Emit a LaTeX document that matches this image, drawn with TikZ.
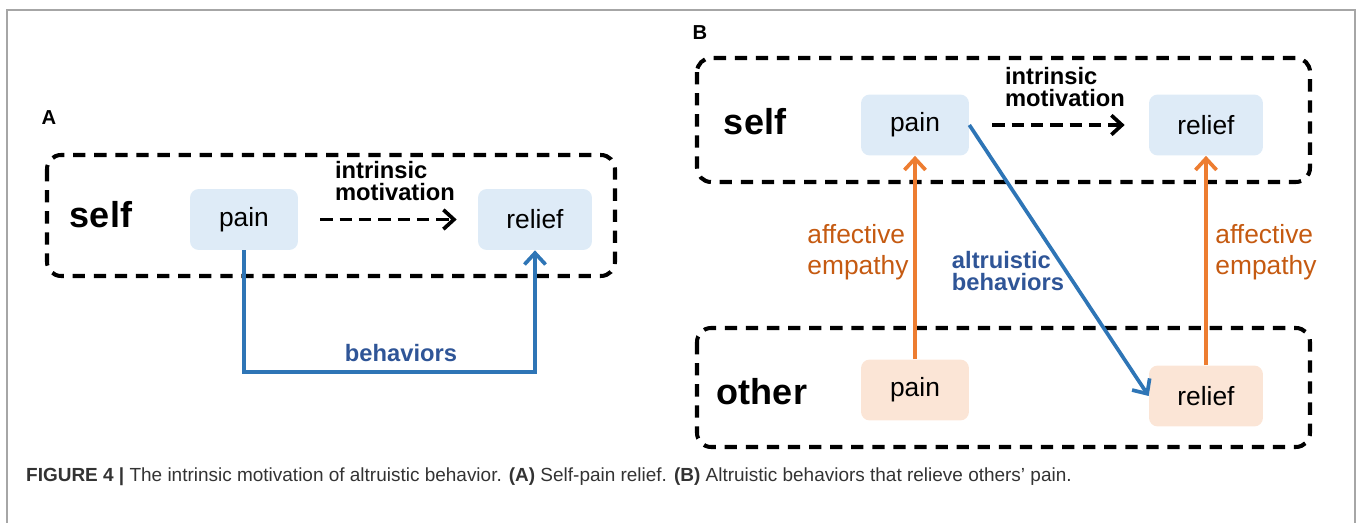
\documentclass[tikz,border=0pt]{standalone}
\usepackage{fontspec}
\setmainfont{Liberation Sans}
\usetikzlibrary{arrows.meta}

\definecolor{boxblue}{HTML}{DEEBF7}
\definecolor{boxpeach}{HTML}{FBE5D6}
\definecolor{arrblue}{HTML}{2E75B6}
\definecolor{txtblue}{HTML}{2F5597}
\definecolor{arrorange}{HTML}{ED7D31}
\definecolor{txtorange}{HTML}{C55A11}

\begin{document}
\begin{tikzpicture}[x=0.02cm,y=-0.02cm,
  groupbox/.style={draw=black,line width=2.3pt,dash pattern=on 7pt off 5pt,rounded corners=8pt},
  state/.style={rounded corners=5pt,minimum height=1.22cm,font=\fontsize{15}{17}\selectfont},
  bigword/.style={font=\fontsize{20.5}{24}\bfseries\selectfont},
  midword/.style={font=\fontsize{13.5}{13}\bfseries\selectfont,align=left},
  empword/.style={font=\fontsize{15}{17.5}\selectfont,text=txtorange,align=left},
  panelword/.style={font=\fontsize{11.5}{13}\bfseries\selectfont},
  motarrow/.style={-{Straight Barb[length=6pt,width=11pt]},line width=2.1pt,dash pattern=on 7pt off 4pt},
  beharrow/.style={-{Straight Barb[length=6.5pt,width=12pt]},line width=2.1pt,color=arrblue},
  emparrow/.style={-{Straight Barb[length=6.5pt,width=12pt]},line width=2.1pt,color=arrorange}]
\useasboundingbox (0,0) rectangle (1360,523);
\draw[gray!70,line width=0.8pt] (7,530) -- (7,10) -- (1355,10) -- (1355,530);

% panel A
\node[panelword] (labA) at (49,118) {A};
\draw[groupbox] (47,155) rectangle (615,276);
\node[bigword] (selfA) at (101,215) {self};
\node[state,fill=boxblue,minimum width=2.16cm] (painA) at (244,219.5) {pain};
\node[state,fill=boxblue,minimum width=2.28cm] (reliefA) at (535,219.5) {relief};
\draw[motarrow,shorten <=0.44cm,shorten >=0.42cm] (painA) to (reliefA);
\node[midword] (motA) at (395,181) {intrinsic\\motivation};
\coordinate (bendA) at (390,372);
\draw[beharrow] (painA.south) |- (bendA) -| (reliefA.south);
\node[midword,text=txtblue] (behA) at (401,353) {behaviors};

% panel B
\node[panelword] (labB) at (700,33) {B};
\draw[groupbox] (697,58) rectangle (1310,182);
\draw[groupbox] (697,328) rectangle (1310,447);
\node[bigword] (selfB) at (755,122) {self};
\node[bigword] (otherB) at (762,392) {other};
\node[state,fill=boxblue,minimum width=2.16cm] (painS) at (915,125) {pain};
\node[state,fill=boxblue,minimum width=2.28cm] (reliefS) at (1206,125) {relief};
\node[state,fill=boxpeach,minimum width=2.16cm] (painO) at (915,390) {pain};
\node[state,fill=boxpeach,minimum width=2.28cm] (reliefO) at (1206,396) {relief};
\draw[motarrow,shorten <=0.46cm,shorten >=0.48cm] (painS) to (reliefS);
\node[midword] (motB) at (1065,87) {intrinsic\\motivation};
\draw[emparrow] (painO.north) to (painS.south);
\draw[emparrow] (reliefO.north) to (reliefS.south);
\draw[beharrow] (painS.east) to (reliefO.west);
\node[empword] (empL) at (858,252) {affective\\empathy};
\node[empword] (empR) at (1266,252) {affective\\empathy};
\node[midword,text=txtblue] (altB) at (1008,271) {altruistic\\behaviors};

% caption
\node[anchor=west,font=\fontsize{10.8}{13}\selectfont,text=black!80] (cap) at (20,477)
  {\textbf{FIGURE 4 |} The intrinsic motivation of altruistic behavior. \textbf{(A)} Self-pain relief. \textbf{(B)} Altruistic behaviors that relieve others' pain.};
\end{tikzpicture}
\end{document}
